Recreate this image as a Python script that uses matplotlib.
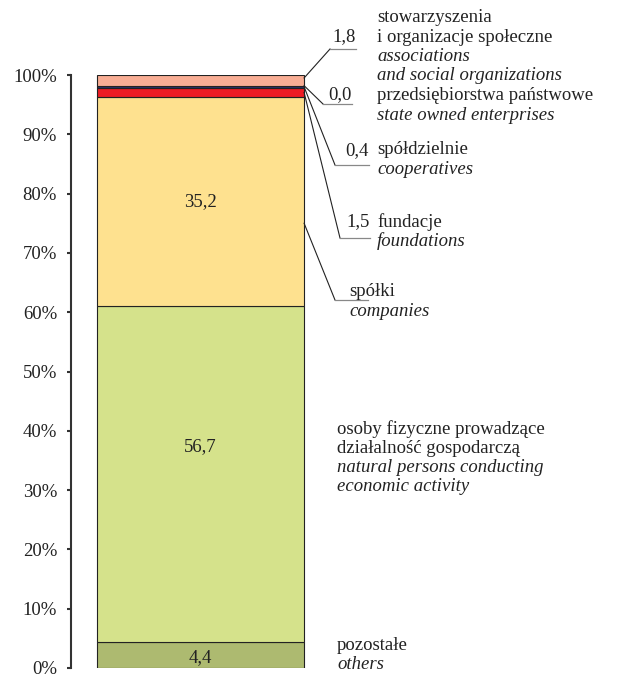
import matplotlib
matplotlib.use('Agg')
import matplotlib.pyplot as plt
from matplotlib.lines import Line2D

# stack from bottom to top
categories = ['pozostałe', 'osoby fizyczne', 'spółki', 'fundacje',
              'spółdzielnie', 'przedsiębiorstwa państwowe', 'stowarzyszenia']
shares = [4.4, 56.7, 35.2, 1.5, 0.4, 0.0, 1.8]
colors = ['#adba70', '#d5e28b', '#fee18f', '#ed1c24', '#2e3170', '#2e3170', '#f8ad94']
value_labels = ['4,4', '56,7', '35,2', '1,5', '0,4', '0,0', '1,8']
yticks = list(range(0, 101, 10))
ytick_labels = ['%d%%' % t for t in yticks]

W, H = 625, 676
FS = 13.5
plt.rcParams['font.family'] = ['Liberation Serif', 'DejaVu Serif']
fig = plt.figure(figsize=(W / 100, H / 100), dpi=100)
ax = fig.add_axes([71 / W, 8 / H, 259 / W, 593 / H])

def px(x, y):
    # pixel coords (y from top) -> figure fraction
    return x / W, 1 - y / H

bottom = 0
tops = []
for s, c in zip(shares, colors):
    ax.bar(0, s, width=0.8, bottom=bottom, color=c, edgecolor='#222222', linewidth=0.8)
    tops.append((bottom, bottom + s))
    bottom += s

ax.set_xlim(-0.5, 0.5)
ax.set_ylim(0, 100)
ax.set_xticks([])
ax.set_yticks(yticks)
ax.set_yticklabels(ytick_labels, fontsize=FS, color='#222222')
ax.tick_params(axis='y', direction='out', length=3, width=1.5, pad=7, color='#333333')
for sp in ['top', 'right', 'bottom']:
    ax.spines[sp].set_visible(False)
ax.spines['left'].set_linewidth(1.5)
ax.spines['left'].set_color('#333333')
ax.patch.set_alpha(0)

# values inside bar
ax.text(0, sum(tops[0]) / 2 - 0.4, value_labels[0], ha='center', va='center', fontsize=FS, color='#222222')
ax.text(0, 37.3, value_labels[1], ha='center', va='center', fontsize=FS, color='#222222')
ax.text(0, sum(tops[2]) / 2, value_labels[2], ha='center', va='center', fontsize=FS, color='#222222')

def block(x, y0, lines, step=19.3):
    for i, (t, it) in enumerate(lines):
        fx, fy = px(x, y0 + i * step)
        fig.text(fx, fy, t, ha='left', va='center', fontsize=FS, color='#222222',
                 style='italic' if it else 'normal')

def leader(ystart, elbow, xend, label=None, lab_y=None):
    x0, y0 = ax.transData.transform((0.4, ystart))
    x0, y0 = x0 / W, y0 / H
    ex, ey = px(*elbow)
    hx, hy = px(xend, elbow[1])
    fig.add_artist(Line2D([x0, ex], [y0, ey], color='#222222', lw=0.8))
    fig.add_artist(Line2D([ex, hx], [ey, hy], color='#888888', lw=0.9))
    if label is not None:
        fx, fy = px(xend, lab_y)
        fig.text(fx, fy, label, ha='right', va='center', fontsize=FS, color='#222222')

# leader lines
leader(99.5, (330, 49), 356, value_labels[6], 37)
leader(tops[5][1], (323, 104), 352, value_labels[5], 95)
leader(sum(tops[4]) / 2, (335, 165), 369, value_labels[4], 151)
leader(sum(tops[3]) / 2, (340, 238), 370, value_labels[3], 222)
leader(75, (335, 300), 368)

block(377, 18, [('stowarzyszenia', 0), ('i organizacje społeczne', 0),
                ('associations', 1), ('and social organizations', 1)])
block(377, 96, [('przedsiębiorstwa państwowe', 0), ('state owned enterprises', 1)])
block(377, 150, [('spółdzielnie', 0), ('cooperatives', 1)])
block(377, 222, [('fundacje', 0), ('foundations', 1)])
block(349, 292, [('spółki', 0), ('companies', 1)])
block(337, 429, [('osoby fizyczne prowadzące', 0), ('działalność gospodarczą', 0),
                 ('natural persons conducting', 1), ('economic activity', 1)])
block(337, 645, [('pozostałe', 0), ('others', 1)])

fig.savefig('out.png', dpi=100)
